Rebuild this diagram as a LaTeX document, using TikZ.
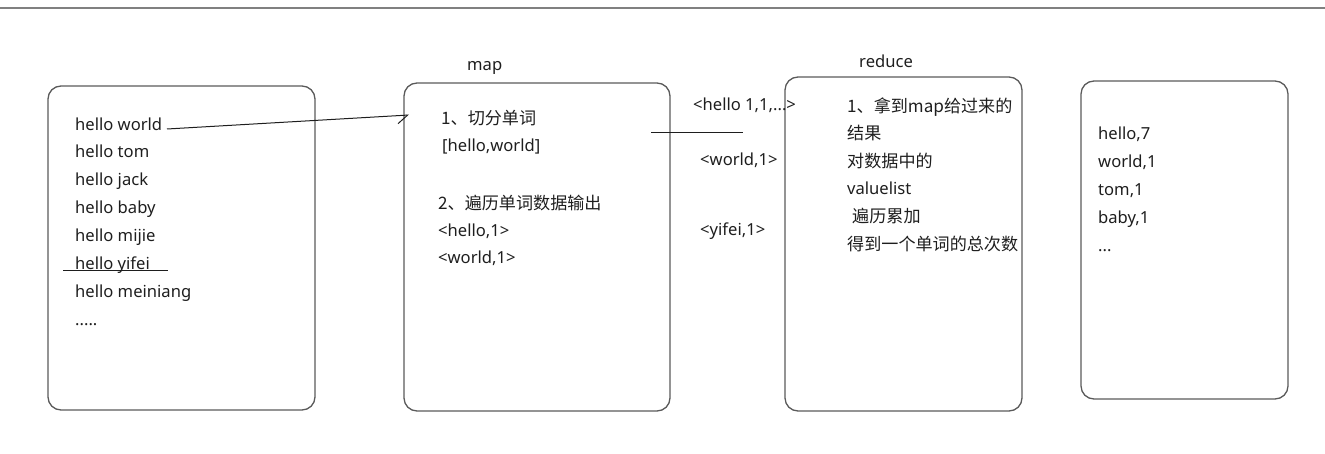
\documentclass[tikz,border=0pt]{standalone}
\usepackage{fontspec}
\setmainfont{Noto Sans}
\newfontfamily\cjk[Scale=1.03]{Noto Sans CJK SC}
\usetikzlibrary{arrows.meta}
\definecolor{boxgray}{HTML}{5A5A5A}
\definecolor{inkgray}{HTML}{1E1E1E}
\definecolor{rulegray}{HTML}{808080}
\tikzset{
  box/.style = {draw=boxgray, line width=1.3pt, rounded corners=13pt},
  txt/.style = {anchor=base west, inner sep=0pt, text=inkgray, font=\fontsize{16.6}{19}\selectfont},
  pen/.style = {draw=inkgray, line width=1pt}
}
\begin{document}
\begin{tikzpicture}[x=1pt, y=-1pt]
\useasboundingbox (0,0) rectangle (1325,454);
\draw [rulegray, line width=2pt] (0,8) -- (1325,8);
% the four boxes
\draw [box] (48,86) rectangle (315,410);
\draw [box] (404,83) rectangle (670,411);
\draw [box] (785,77) rectangle (1022,411);
\draw [box] (1081,81) rectangle (1288,399);
% input lines
\node [txt] (w1) at (75,131) {hello world};
\node [txt] (w2) at (75,158) {hello tom};
\node [txt] (w3) at (75,186) {hello jack};
\node [txt] (w4) at (75,214) {hello baby};
\node [txt] (w5) at (75,242) {hello mijie};
\node [txt] (w6) at (75,270) {hello yifei};
\node [txt] (w7) at (75,298) {hello meiniang};
\node [txt] (w8) at (75,326) {.....};
\draw [pen] (63,271) -- (168,271);
\coordinate (maptip) at (409,115);
\draw [pen, -{Straight Barb[right, length=10pt, width=16pt]}] (167,129) -- (maptip);
% map
\node [txt] (maplbl) at (467,71) {map};
\node [txt] (m1) at (441,125) {\cjk 1、切分单词};
\node [txt] (m2) at (442,152) {[hello,world]};
\node [txt] (m3) at (438,210) {\cjk 2、遍历单词数据输出};
\node [txt] (m4) at (438,237) {<hello,1>};
\node [txt] (m5) at (438,264) {<world,1>};
% shuffle
\node [txt] (s1) at (693,111) {<hello 1,1,...>};
\draw [pen] (651,133) -- (743,133);
\node [txt] (s2) at (700,166) {<world,1>};
\node [txt] (s3) at (700,236) {<yifei,1>};
% reduce
\node [txt] (redlbl) at (859,68) {reduce};
\node [txt] (r1) at (847,113) {\cjk 1、拿到map给过来的};
\node [txt] (r2) at (847,140) {\cjk 结果};
\node [txt] (r3) at (847,168) {\cjk 对数据中的};
\node [txt] (r4) at (847,195) {valuelist};
\node [txt] (r5) at (852,223) {\cjk 遍历累加};
\node [txt] (r6) at (847,251) {\cjk 得到一个单词的总次数};
% output
\node [txt] (o1) at (1098,140) {hello,7};
\node [txt] (o2) at (1098,168) {world,1};
\node [txt] (o3) at (1098,196) {tom,1};
\node [txt] (o4) at (1098,224) {baby,1};
\node [txt] (o5) at (1098,252) {...};
\end{tikzpicture}
\end{document}
